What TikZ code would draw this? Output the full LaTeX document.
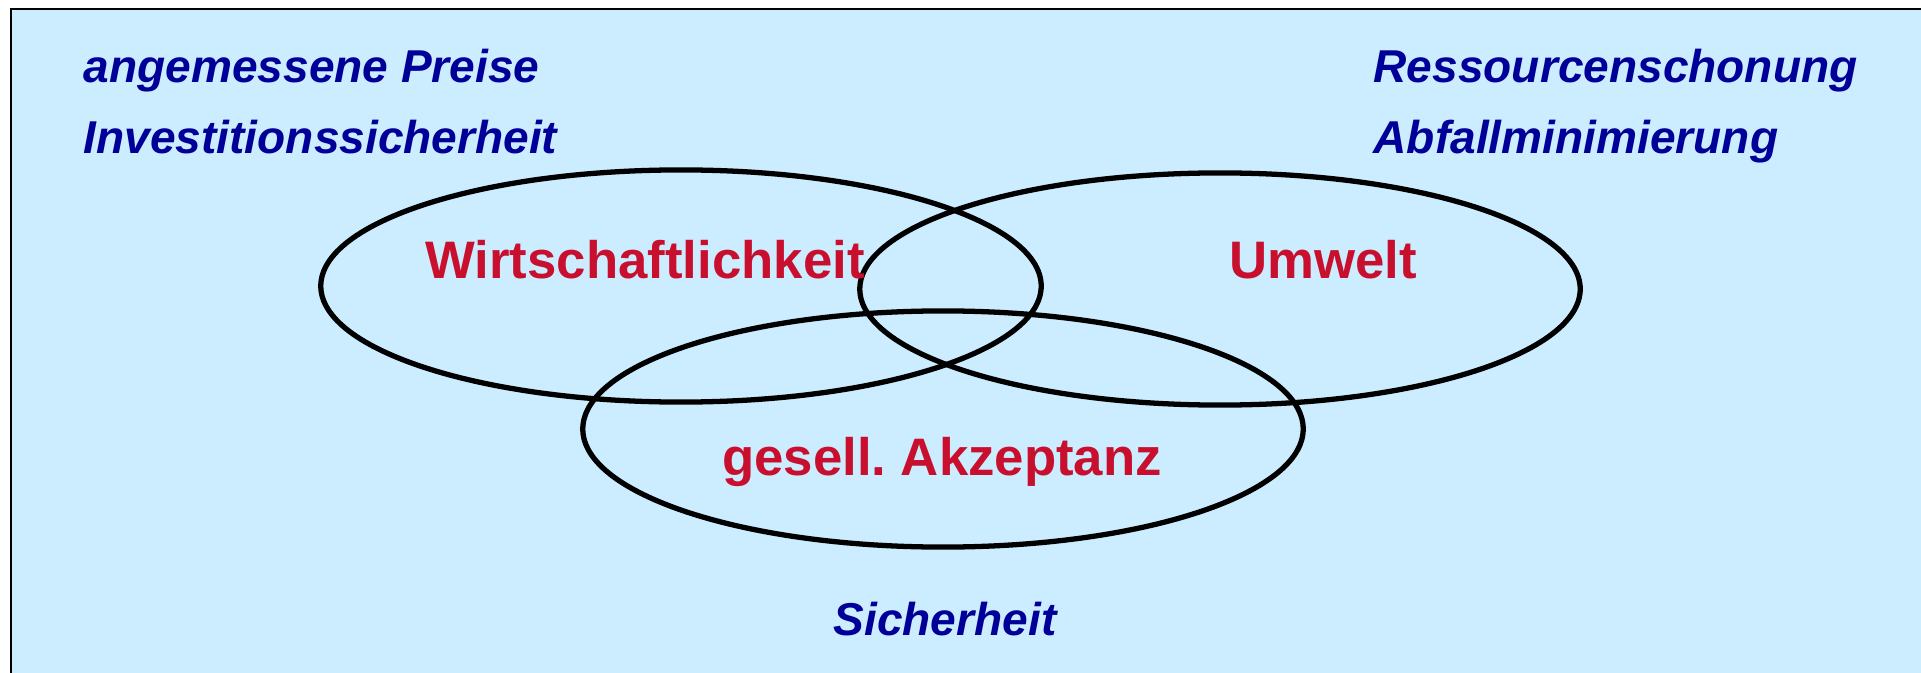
\documentclass[tikz,border=0pt]{standalone}
\usepackage{fontspec}
\setmainfont{Liberation Sans}
\usepackage{tikz}
\usetikzlibrary{positioning,shapes.geometric}
\usepackage{xcolor}
\definecolor{panelsky}{HTML}{CCECFF}
\definecolor{goalnavy}{HTML}{000099}
\definecolor{aimred}{HTML}{C8102E}
\tikzset{
  goalring/.style={
    ellipse,
    draw=black,
    line width=1.5pt,
    minimum width=7.2cm,
    minimum height=2.32cm,
    inner sep=0pt
  },
  aimlabel/.style={
    anchor=base,
    inner sep=0pt,
    text=aimred,
    font=\fontsize{15}{18}\selectfont\bfseries
  },
  goallabel/.style={
    anchor=base west,
    inner sep=0pt,
    text=goalnavy,
    font=\fontsize{13.1}{16}\selectfont\bfseries\itshape
  }
}

\begin{document}
\begin{tikzpicture}[x=0.01cm,y=-0.01cm]
\useasboundingbox (0,0) rectangle (1921,673);
\clip (0,0) rectangle (1921,673);
\filldraw[fill=panelsky, draw=black, line width=0.7pt] (11,9) rectangle (1990,740);
% the three rings
\node[goalring] (wirt) at (681,286) {};
\node[goalring] (umw) at (1220,289) {};
\node[goalring, minimum height=2.36cm] (akz) at (943,429) {};
% labels inside the rings
\node[aimlabel] (wirtlbl) at (645,278) {Wirtschaftlichkeit};
\node[aimlabel] (umwlbl) at (1323,278) {Umwelt};
\node[aimlabel] (akzlbl) at (942,475) {gesell.\ Akzeptanz};
% goals round the rings
\node[goallabel] (preise) at (83,83) {angemessene Preise};
\node[goallabel] (invest) at (83,153) {Investitionssicherheit};
\node[goallabel] (ressou) at (1373,83) {Ressourcenschonung};
\node[goallabel] (abfall) at (1373,153) {Abfallminimierung};
\node[goallabel, anchor=base] (sicher) at (945,635) {Sicherheit};
\end{tikzpicture}
\end{document}
